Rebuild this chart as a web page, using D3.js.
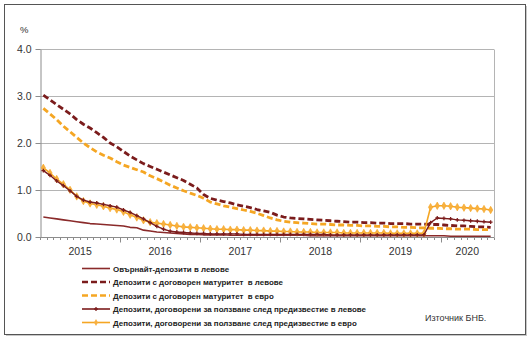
<!DOCTYPE html>
<html>
<head>
<meta charset="utf-8">
<script src="https://cdn.jsdelivr.net/npm/d3@7"></script>
<style>
  html, body { margin: 0; padding: 0; background: #fff; }
  svg { display: block; font-family: "Liberation Sans", Arial, sans-serif; }
</style>
</head>
<body>
<svg id="chart" width="531" height="341"></svg>
<script>
// Monthly observations, Jan 2015 – Aug 2020
const years = ["2015", "2016", "2017", "2018", "2019", "2020"];
const monthsPerYear = [12, 12, 12, 12, 12, 8];

const overnightBGN = [
  0.42, 0.40, 0.38, 0.36, 0.34, 0.32, 0.30, 0.28, 0.27, 0.26, 0.25, 0.24,
  0.23, 0.20, 0.19, 0.14, 0.12, 0.10, 0.09, 0.08, 0.07, 0.06, 0.05, 0.05,
  0.04, 0.04, 0.04, 0.04, 0.03, 0.03, 0.03, 0.03, 0.03, 0.03, 0.03, 0.03,
  0.03, 0.03, 0.03, 0.03, 0.02, 0.02, 0.02, 0.02, 0.02, 0.02, 0.02, 0.02,
  0.02, 0.02, 0.02, 0.02, 0.02, 0.02, 0.02, 0.02, 0.02, 0.02, 0.02, 0.02,
  0.02, 0.01, 0.01, 0.01, 0.01, 0.01, 0.01, 0.01
];
const termBGN = [
  3.02, 2.92, 2.82, 2.72, 2.62, 2.50, 2.40, 2.32, 2.22, 2.12, 2.00, 1.92,
  1.82, 1.72, 1.64, 1.56, 1.50, 1.44, 1.38, 1.32, 1.26, 1.20, 1.12, 1.04,
  0.90, 0.82, 0.78, 0.75, 0.72, 0.68, 0.65, 0.62, 0.58, 0.55, 0.52, 0.46,
  0.42, 0.40, 0.39, 0.38, 0.37, 0.36, 0.35, 0.34, 0.33, 0.32, 0.31, 0.31,
  0.30, 0.30, 0.29, 0.29, 0.28, 0.28, 0.28, 0.27, 0.27, 0.27, 0.26, 0.26,
  0.25, 0.24, 0.23, 0.23, 0.22, 0.21, 0.21, 0.20
];
const termEUR = [
  2.74, 2.62, 2.50, 2.36, 2.24, 2.12, 2.00, 1.90, 1.81, 1.74, 1.68, 1.60,
  1.53, 1.48, 1.43, 1.38, 1.30, 1.24, 1.17, 1.10, 1.04, 0.98, 0.93, 0.88,
  0.82, 0.74, 0.70, 0.66, 0.63, 0.60, 0.57, 0.54, 0.50, 0.45, 0.40, 0.36,
  0.33, 0.31, 0.30, 0.29, 0.28, 0.27, 0.27, 0.26, 0.25, 0.25, 0.24, 0.24,
  0.23, 0.23, 0.22, 0.22, 0.21, 0.21, 0.20, 0.20, 0.19, 0.19, 0.18, 0.18,
  0.17, 0.17, 0.16, 0.16, 0.16, 0.15, 0.15, 0.15
];
const noticeBGN = [
  1.41, 1.31, 1.19, 1.09, 0.98, 0.86, 0.78, 0.74, 0.72, 0.69, 0.66, 0.63,
  0.57, 0.52, 0.45, 0.38, 0.30, 0.22, 0.16, 0.12, 0.10, 0.09, 0.08, 0.07,
  0.07, 0.06, 0.06, 0.06, 0.06, 0.06, 0.05, 0.05, 0.05, 0.05, 0.05, 0.05,
  0.05, 0.05, 0.05, 0.05, 0.05, 0.05, 0.05, 0.04, 0.04, 0.04, 0.04, 0.04,
  0.04, 0.04, 0.04, 0.04, 0.04, 0.04, 0.04, 0.04, 0.04, 0.04, 0.30, 0.40,
  0.39, 0.38, 0.36, 0.35, 0.34, 0.33, 0.32, 0.31
];
const noticeEUR = [
  1.47, 1.36, 1.23, 1.12, 1.00, 0.86, 0.76, 0.71, 0.68, 0.65, 0.61, 0.58,
  0.53, 0.47, 0.41, 0.35, 0.31, 0.29, 0.27, 0.25, 0.23, 0.21, 0.20, 0.19,
  0.18, 0.17, 0.16, 0.16, 0.15, 0.15, 0.14, 0.14, 0.13, 0.13, 0.12, 0.12,
  0.11, 0.11, 0.10, 0.10, 0.10, 0.09, 0.09, 0.09, 0.09, 0.08, 0.08, 0.08,
  0.08, 0.08, 0.08, 0.08, 0.07, 0.07, 0.07, 0.07, 0.07, 0.07, 0.63, 0.66,
  0.66, 0.65, 0.63, 0.62, 0.61, 0.60, 0.59, 0.57
];
const yTicks = [0, 1, 2, 3, 4];

const seriesNames = [
  "Овърнайт-депозити в левове",
  "Депозити с договорен матуритет  в левове",
  "Депозити с договорен матуритет  в евро",
  "Депозити, договорени за ползване след предизвестие в левове",
  "Депозити, договорени за ползване след предизвестие в евро"
];

const MAROON = "#7b1c1c";
const ORANGE = "#f5a623";

const series = [
  { name: seriesNames[0], values: overnightBGN, color: "#8a2a2a", width: 1.6, dash: null, marker: null },
  { name: seriesNames[1], values: termBGN, color: MAROON, width: 2.8, dash: "6,3", marker: null },
  { name: seriesNames[2], values: termEUR, color: ORANGE, width: 2.8, dash: "6,3", marker: null },
  { name: seriesNames[4], values: noticeEUR, color: ORANGE, width: 1.6, dash: null, marker: "diamond" },
  { name: seriesNames[3], values: noticeBGN, color: MAROON, width: 1.4, dash: null, marker: "plus" }
];

const svg = d3.select("#chart");

// outer frame with a light shadow
svg.append("rect").attr("x", 6).attr("y", 6).attr("width", 521).attr("height", 330)
  .attr("fill", "#c8c8c8");
svg.append("rect").attr("x", 4.5).attr("y", 4.5).attr("width", 521).attr("height", 330)
  .attr("fill", "#fff").attr("stroke", "#555").attr("stroke-width", 1);

const plot = { left: 40, right: 494, top: 49.3, bottom: 236.7 };
const nMonths = d3.sum(monthsPerYear);

const x = d3.scaleLinear().domain([0, nMonths]).range([plot.left, plot.right]);
const y = d3.scaleLinear().domain([0, 4]).range([plot.bottom, plot.top]);

// gridlines
svg.append("g").selectAll("line").data(yTicks.filter(d => d > 0)).join("line")
  .attr("x1", plot.left).attr("x2", plot.right)
  .attr("y1", d => Math.round(y(d)) + 0.5).attr("y2", d => Math.round(y(d)) + 0.5)
  .attr("stroke", "#b4b4b4").attr("stroke-width", 1);

// right border of plot area
svg.append("line").attr("x1", plot.right + 0.5).attr("x2", plot.right + 0.5)
  .attr("y1", Math.round(y(4)) + 0.5).attr("y2", Math.round(y(0)) + 0.5)
  .attr("stroke", "#b4b4b4");

// y axis
const yAxis = svg.append("g").attr("transform", `translate(${plot.left + 0.5},0)`)
  .call(d3.axisLeft(y).tickValues(yTicks).tickFormat(d3.format(".1f")).tickSize(5).tickSizeOuter(0))
  .call(g => g.select(".domain").attr("stroke", "#8c8c8c"))
  .call(g => g.selectAll(".tick line").attr("stroke", "#8c8c8c"))
  .call(g => g.selectAll(".tick text").attr("fill", "#333").attr("font-size", 10.5)
    .attr("font-family", "Liberation Sans, Arial, sans-serif").attr("x", -9));
yAxis.selectAll(".tick").attr("transform", d => `translate(0,${Math.round(y(d)) + 0.5})`);

svg.append("text").attr("x", 20).attr("y", 33).attr("font-size", 9.5).attr("fill", "#333").text("%");

// x axis: month ticks, longer ticks on year boundaries
const boundaries = d3.range(0, nMonths + 1);
const yearStarts = [];
monthsPerYear.reduce((acc, m) => { yearStarts.push(acc); return acc + m; }, 0);
const xg = svg.append("g").attr("transform", `translate(0,${Math.round(y(0)) + 0.5})`);
xg.append("line").attr("x1", plot.left).attr("x2", plot.right).attr("stroke", "#8c8c8c");
xg.selectAll("line.tick").data(boundaries).join("line").attr("class", "tick")
  .attr("x1", d => Math.round(x(d)) + 0.5).attr("x2", d => Math.round(x(d)) + 0.5)
  .attr("y1", 0).attr("y2", d => yearStarts.includes(d) && d > 0 ? 5 : 2.5)
  .attr("stroke", "#8c8c8c");
xg.selectAll("text.year").data(years).join("text").attr("class", "year")
  .attr("x", (d, i) => x(yearStarts[i] + monthsPerYear[i] / 2))
  .attr("y", 17).attr("text-anchor", "middle").attr("font-size", 10.5).attr("fill", "#333")
  .text(d => d);

// series lines
const px = i => x(i + 0.5);
const line = d3.line().x((d, i) => px(i)).y(d => y(d));

series.forEach(s => {
  svg.append("path").datum(s.values)
    .attr("d", line).attr("fill", "none")
    .attr("stroke", s.color).attr("stroke-width", s.width)
    .attr("stroke-dasharray", s.dash).attr("stroke-linejoin", "round");
  if (s.marker === "diamond") {
    svg.append("g").selectAll("path").data(s.values).join("path")
      .attr("d", d3.symbol(d3.symbolDiamond, 16))
      .attr("transform", (d, i) => `translate(${px(i)},${y(d)})`)
      .attr("fill", "#f8b040").attr("stroke", ORANGE).attr("stroke-width", 0.6);
  } else if (s.marker === "plus") {
    svg.append("g").selectAll("path").data(s.values).join("path")
      .attr("d", d3.symbol(d3.symbolCross, 8))
      .attr("transform", (d, i) => `translate(${px(i)},${y(d)})`)
      .attr("fill", s.color);
  }
});

// legend
const legendOrder = [series[0], series[1], series[2], series[4], series[3]];
const lg = svg.append("g");
legendOrder.forEach((s, k) => {
  const ly = 268.5 + k * 13.5;
  lg.append("line").attr("x1", 82).attr("x2", 110).attr("y1", ly).attr("y2", ly)
    .attr("stroke", s.color).attr("stroke-width", s.dash ? 2.6 : 1.6)
    .attr("stroke-dasharray", s.dash ? "6,3" : null);
  if (s.marker) {
    lg.append("path")
      .attr("d", d3.symbol(s.marker === "diamond" ? d3.symbolDiamond : d3.symbolCross, s.marker === "diamond" ? 14 : 8))
      .attr("transform", `translate(96,${ly})`).attr("fill", s.marker === "diamond" ? "#f8b040" : s.color);
  }
  lg.append("text").attr("x", 113).attr("y", ly + 3).attr("font-size", 7.95)
    .attr("font-weight", "bold").attr("fill", "#222").style("white-space", "pre").text(s.name);
});

svg.append("text").attr("x", 425).attr("y", 321).attr("font-size", 9).attr("fill", "#333")
  .text("Източник БНБ.");
</script>
</body>
</html>
